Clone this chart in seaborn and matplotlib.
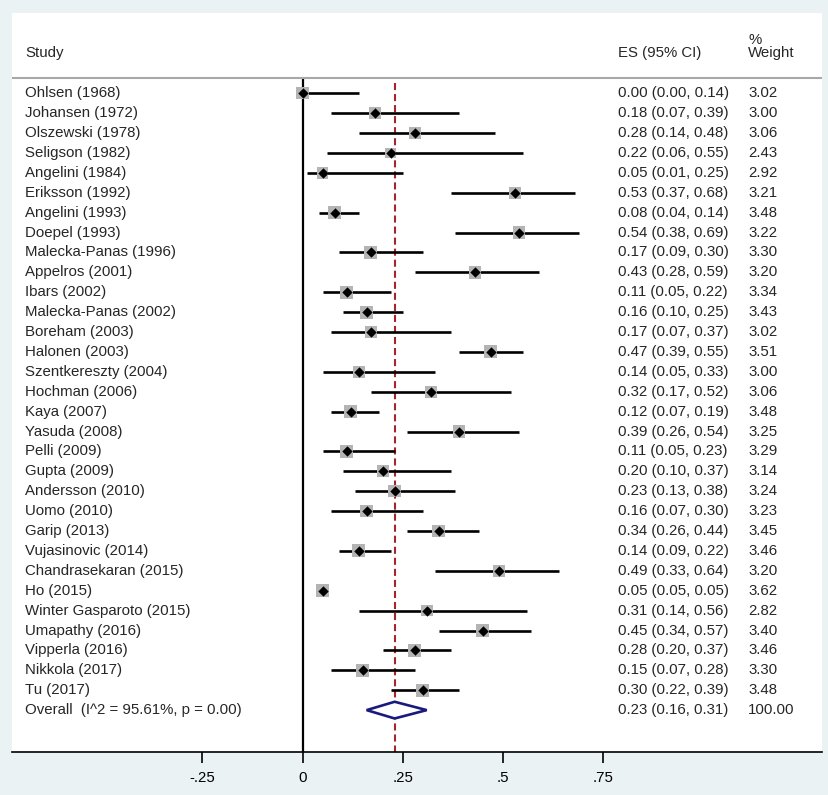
import numpy as np
import pandas as pd
import seaborn as sns
import matplotlib.pyplot as plt

studies = ['Ohlsen (1968)', 'Johansen (1972)', 'Olszewski (1978)', 'Seligson (1982)',
           'Angelini (1984)', 'Eriksson (1992)', 'Angelini (1993)', 'Doepel (1993)',
           'Malecka-Panas (1996)', 'Appelros (2001)', 'Ibars (2002)', 'Malecka-Panas (2002)',
           'Boreham (2003)', 'Halonen (2003)', 'Szentkereszty (2004)', 'Hochman (2006)',
           'Kaya (2007)', 'Yasuda (2008)', 'Pelli (2009)', 'Gupta (2009)',
           'Andersson (2010)', 'Uomo (2010)', 'Garip (2013)', 'Vujasinovic (2014)',
           'Chandrasekaran (2015)', 'Ho (2015)', 'Winter Gasparoto (2015)', 'Umapathy (2016)',
           'Vipperla (2016)', 'Nikkola (2017)', 'Tu (2017)']
es = [0.00, 0.18, 0.28, 0.22, 0.05, 0.53, 0.08, 0.54, 0.17, 0.43, 0.11, 0.16, 0.17, 0.47,
      0.14, 0.32, 0.12, 0.39, 0.11, 0.20, 0.23, 0.16, 0.34, 0.14, 0.49, 0.05, 0.31, 0.45,
      0.28, 0.15, 0.30]
ci_low = [0.00, 0.07, 0.14, 0.06, 0.01, 0.37, 0.04, 0.38, 0.09, 0.28, 0.05, 0.10, 0.07, 0.39,
          0.05, 0.17, 0.07, 0.26, 0.05, 0.10, 0.13, 0.07, 0.26, 0.09, 0.33, 0.05, 0.14, 0.34,
          0.20, 0.07, 0.22]
ci_high = [0.14, 0.39, 0.48, 0.55, 0.25, 0.68, 0.14, 0.69, 0.30, 0.59, 0.22, 0.25, 0.37, 0.55,
           0.33, 0.52, 0.19, 0.54, 0.23, 0.37, 0.38, 0.30, 0.44, 0.22, 0.64, 0.05, 0.56, 0.57,
           0.37, 0.28, 0.39]
weights = [3.02, 3.00, 3.06, 2.43, 2.92, 3.21, 3.48, 3.22, 3.30, 3.20, 3.34, 3.43, 3.02, 3.51,
           3.00, 3.06, 3.48, 3.25, 3.29, 3.14, 3.24, 3.23, 3.45, 3.46, 3.20, 3.62, 2.82, 3.40,
           3.46, 3.30, 3.48]
overall_label = 'Overall  (I^2 = 95.61%, p = 0.00)'
overall_es, overall_low, overall_high, overall_weight = 0.23, 0.16, 0.31, 100.00
xticks = [-0.25, 0, 0.25, 0.5, 0.75]
xtick_labels = ['-.25', '0', '.25', '.5', '.75']

df = pd.DataFrame({'study': studies, 'es': es, 'lo': ci_low, 'hi': ci_high, 'w': weights})
df['row'] = np.arange(len(df))
overall_row = len(df)

sns.set_style('ticks')
plt.rcParams['font.family'] = ['Liberation Sans', 'DejaVu Sans']
fs = 10.8

fig = plt.figure(figsize=(8.29, 7.95), dpi=100, facecolor='#EAF2F3')
ax = fig.add_axes([12 / 829, 1 - 751.7 / 795, 810 / 829, (751.7 - 13.3) / 795])
ax.set_facecolor('white')

x_left, x_right = -0.725, 1.2965
y_top, y_bottom = -4.02, 33.09
header_y = -0.754

# reference lines
ax.vlines(0, header_y, y_bottom, color='black', lw=1.6, zorder=1)
ax.vlines(overall_es, -0.5, y_bottom, color='#A4262C', lw=1.5,
          linestyle=(0, (3.4, 1.9)), zorder=1)
ax.hlines(header_y, x_left, x_right, color='#A8A8A8', lw=1.5, zorder=1)

# confidence intervals
ax.hlines(df['row'], df['lo'], df['hi'], color='black', lw=1.9, zorder=2)

# weight boxes
sns.scatterplot(data=df, x='es', y='row', size='w', sizes=(24.9 * 2.43, 24.9 * 3.62),
                size_norm=(2.43, 3.62), marker='s', color='#B4B4B4', linewidth=0,
                legend=False, ax=ax, zorder=3)
# point estimates
sns.scatterplot(data=df, x='es', y='row', marker='D', color='black', s=28, linewidth=0,
                legend=False, ax=ax, zorder=4)

# overall diamond
h = 0.42
ax.fill([overall_low, overall_es, overall_high, overall_es],
        [overall_row, overall_row - h, overall_row, overall_row + h],
        facecolor='white', edgecolor='#1A1A7E', lw=1.9, zorder=4)

# text columns
x_study, x_es, x_w = -0.6925, 0.787, 1.112
ax.text(x_study, -2.01, 'Study', fontsize=fs, va='center')
ax.text(x_es, -2.01, 'ES (95% CI)', fontsize=fs, va='center')
ax.text(x_w, -2.01, 'Weight', fontsize=fs, va='center')
ax.text(x_w, -2.68 - 0.02, '%', fontsize=fs, va='center')
for _, r in df.iterrows():
    ax.text(x_study, r['row'], r['study'], fontsize=fs, va='center')
    ax.text(x_es, r['row'], f"{r['es']:.2f} ({r['lo']:.2f}, {r['hi']:.2f})", fontsize=fs, va='center')
    ax.text(x_w, r['row'], f"{r['w']:.2f}", fontsize=fs, va='center')
ax.text(x_study, overall_row, overall_label, fontsize=fs, va='center')
ax.text(x_es, overall_row, f"{overall_es:.2f} ({overall_low:.2f}, {overall_high:.2f})",
        fontsize=fs, va='center')
ax.text(x_w, overall_row, f"{overall_weight:.2f}", fontsize=fs, va='center')

ax.set_xlim(x_left, x_right)
ax.set_ylim(y_bottom, y_top)
ax.set_xticks(xticks)
ax.set_xticklabels(xtick_labels, fontsize=fs)
ax.set_yticks([])
ax.set_xlabel('')
ax.set_ylabel('')
for s in ['top', 'left', 'right']:
    ax.spines[s].set_visible(False)
ax.spines['bottom'].set_color('black')
ax.spines['bottom'].set_linewidth(1.2)
ax.tick_params(axis='x', length=8, width=1.2, pad=6, color='black', labelcolor='black')

fig.savefig('out.png', dpi=100, facecolor=fig.get_facecolor())
